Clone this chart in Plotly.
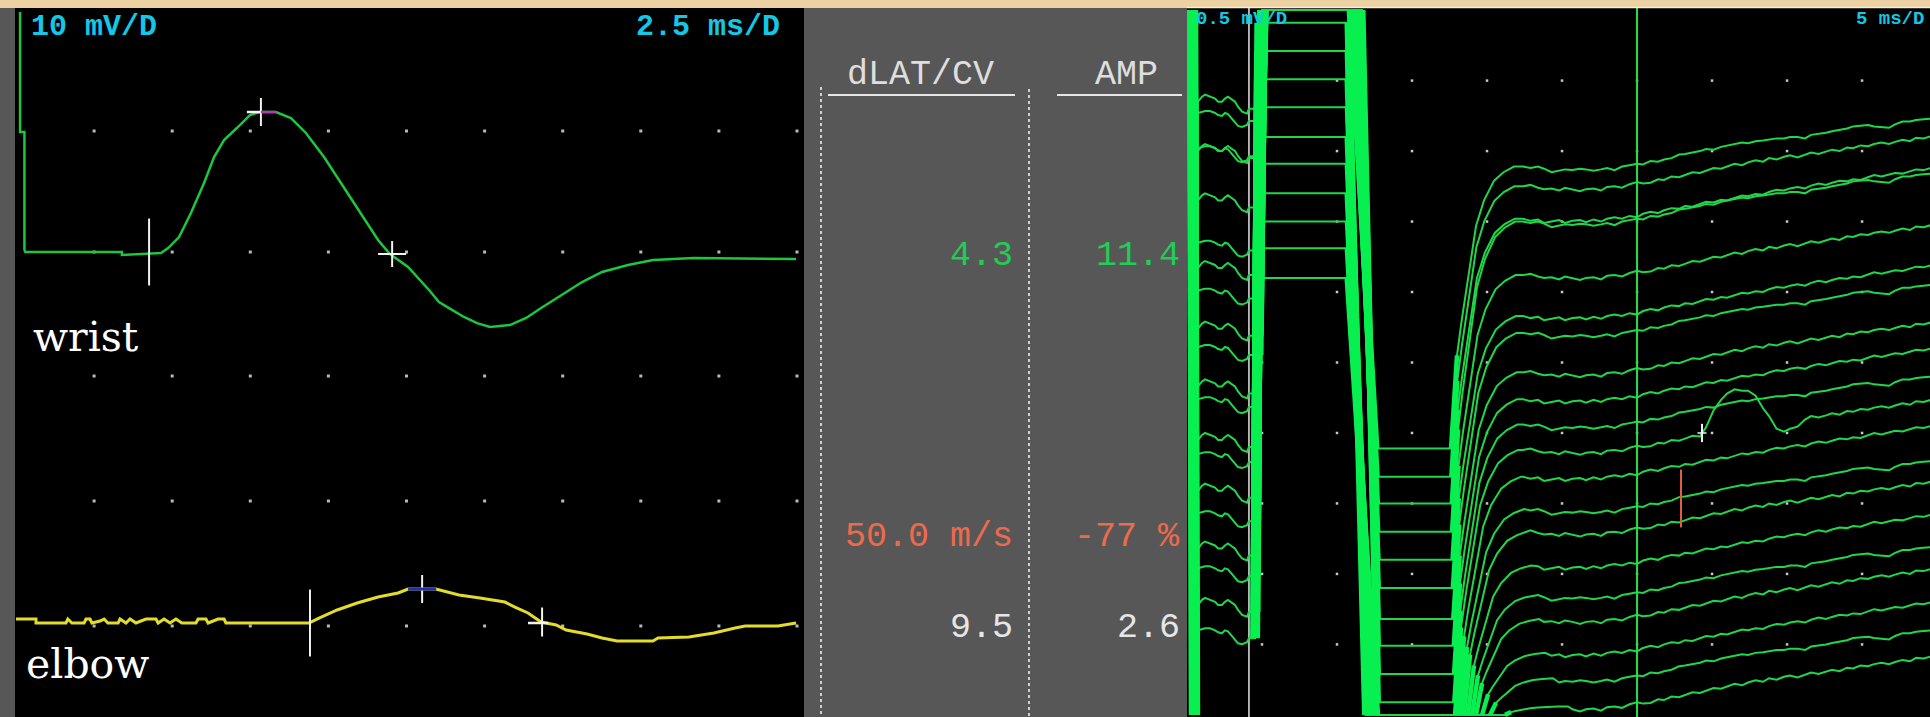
import plotly.graph_objects as go

FIG_W, FIG_H = 1930, 717

# ======================= LEFT PANEL (10 mV/D, 2.5 ms/D) =======================
WRIST_T = [0.13, 0.13, 0.27, 0.27, 0.30, 3.39, 3.39, 4.64, 4.87, 5.22, 5.60, 6.02, 6.34, 6.66,
           7.07, 7.49, 7.81, 8.32, 8.80, 9.28, 9.86, 10.28, 10.76, 11.17, 11.59, 11.97, 12.55,
           13.22, 13.54, 13.86, 14.34, 14.76, 15.17, 15.81, 16.33, 16.81, 17.45, 18.12, 18.76,
           19.59, 20.39, 21.70, 24.97]
WRIST_MV = [19.35, 9.68, 9.68, 0.16, 0.0, 0.0, -0.24, -0.08, 0.32, 1.21, 3.15, 5.56, 7.66, 9.03,
            10.0, 11.05, 11.29, 11.29, 10.8, 9.6, 7.66, 6.05, 4.19, 2.58, 0.97, -0.16, -1.21,
            -3.06, -4.03, -4.52, -5.24, -5.73, -6.05, -5.89, -5.32, -4.52, -3.47, -2.42, -1.61,
            -1.05, -0.65, -0.48, -0.56]

ELBOW_T = [0.0, 0.64, 0.64, 1.60, 1.66, 1.79, 2.18, 2.24, 2.37, 2.43, 2.69, 2.82, 2.94, 3.27,
           3.33, 3.52, 3.65, 3.84, 4.16, 4.48, 4.55, 4.74, 4.93, 5.12, 5.31, 5.76, 5.83, 6.08,
           6.15, 6.47, 6.66, 6.72, 6.98, 7.49, 9.38, 9.70, 10.28, 10.92, 11.59, 12.23, 12.55,
           13.44, 13.70, 14.18, 14.85, 15.65, 15.97, 16.39, 16.81, 17.29, 17.61, 18.28, 18.76,
           19.24, 20.39, 20.55, 21.54, 22.34, 23.02, 23.34, 24.39, 24.97]
ELBOW_MV = [0.24, 0.24, -0.08, -0.08, 0.24, -0.08, -0.08, 0.24, 0.24, -0.08, 0.08, 0.24, -0.08,
            -0.08, 0.24, -0.08, 0.24, -0.08, 0.24, 0.24, -0.08, 0.24, -0.08, 0.24, -0.08, -0.08,
            0.24, 0.24, -0.08, 0.24, 0.24, -0.08, -0.08, -0.08, -0.08, 0.32, 0.97, 1.53, 2.02,
            2.34, 2.66, 2.66, 2.50, 2.18, 1.94, 1.61, 1.21, 0.73, 0.0, -0.24, -0.65, -0.97,
            -1.29, -1.53, -1.53, -1.29, -1.21, -0.89, -0.48, -0.32, -0.32, -0.08]

WRIST_BASE = 37.5
ELBOW_BASE = 7.66

# cursors: time, level (rel. baseline), half-height
WRIST_CUR_T = [4.26, 7.84, 12.04]
WRIST_CUR_LV = [0.0, 11.29, -0.16]
WRIST_CUR_H = [2.7, 1.13, 1.05]
ELBOW_CUR_T = [9.41, 13.0, 16.84]
ELBOW_CUR_LV = [-0.08, 2.66, 0.0]
ELBOW_CUR_H = [2.7, 1.13, 1.17]

LEFT_DOT_T = [2.5, 5.0, 7.5, 10.0, 12.5, 15.0, 17.5, 20.0, 22.5, 25.0]
LEFT_DOT_MV = [7.34, 17.42, 27.5, 37.5, 47.26]

# ======================= MIDDLE TABLE =======================
HEADERS = ["dLAT/CV", "AMP"]
ROW_WRIST = ["4.3", "11.4"]
ROW_CV = ["50.0 m/s", "-77 %"]
ROW_ELBOW = ["9.5", "2.6"]

# ======================= RIGHT PANEL (0.5 mV/D, 5 ms/D) =======================
WAVE_BASE = [4.40, 4.27, 4.05, 4.02, 3.70, 3.35, 3.22, 3.01, 2.79, 2.61,
             2.38, 2.24, 2.00, 1.85, 1.64, 1.43, 1.23, 1.04, 0.83, 0.60]
TOP_MV = [5.0, 5.0, 5.0, 5.0, 5.0, 5.0, 5.0, 5.0, 5.0, 5.0,
          4.91, 4.71, 4.51, 4.31, 4.10, 3.91, 3.70, 3.50, 3.31, 3.10]
BOT_MV = [1.89, 1.69, 1.50, 1.30, 1.10, 0.90, 0.68, 0.49, 0.29, 0.09,
          0.0, 0.0, 0.0, 0.0, 0.0, 0.0, 0.0, 0.0, 0.0, 0.0]
PLAT_MV = [3.89, 3.75, 3.52, 3.50, 3.12, 2.83, 2.71, 2.43, 2.24, 2.06,
           1.88, 1.69, 1.46, 1.30, 1.06, 0.85, 0.68, 0.44, 0.26, 0.06]
SPIKE_T = [0.15, 0.40, 0.25, 0.55, 0.20, 0.45, 0.30, 0.60, 0.18, 0.50,
           0.35, 0.22, 0.58, 0.28, 0.48, 0.14, 0.38, 0.52, 0.26, 0.42]
RISE_START_T = [4.95, 4.93, 4.91, 4.89, 4.87, 4.85, 4.83, 4.81, 4.79, 4.77,
                4.66, 4.65, 4.64, 4.63, 4.62, 4.61, 4.60, 4.58, 4.56, 4.54]
RISE_END_T = [5.12, 5.10, 5.09, 5.08, 5.07, 5.06, 5.05, 5.04, 5.03, 5.02,
              4.82, 4.80, 4.79, 4.78, 4.77, 4.76, 4.75, 4.74, 4.73, 4.72]
FALL_START_T = [10.87, 10.95, 11.05, 11.15, 11.25, 11.35, 11.45, 11.55, 11.60, 11.67,
                10.73, 10.74, 10.73, 10.75, 10.73, 10.74, 10.73, 10.75, 10.74, 10.73]
FALL_END_T = [12.60, 12.62, 12.64, 12.66, 12.68, 12.70, 12.70, 12.70, 12.70, 12.70,
              11.90, 12.00, 12.10, 12.15, 12.20, 12.30, 12.35, 12.45, 12.55, 12.65]
REC_START_T = [17.60, 17.62, 17.65, 17.67, 17.70, 17.72, 17.75, 17.78, 17.80, 17.82,
               17.87, 18.07, 18.27, 18.47, 18.73, 19.00, 19.27, 19.67, 20.20, 21.20]

WAVE_T = [0.73, 1.0, 1.2, 1.53, 1.87, 2.07, 2.33, 2.53, 2.73, 3.0, 3.2, 3.4, 3.67, 4.0, 4.13]
WAVE_DY_A = [-0.05, -0.014, 0.0, -0.014, -0.028, -0.05, -0.05, -0.028, -0.014, -0.035, -0.05,
             -0.085, -0.12, -0.134, -0.1]
WAVE_DY_B = [0.0, 0.007, 0.014, 0.014, 0.0, -0.014, -0.021, 0.0, -0.007, -0.042, -0.07,
             -0.092, -0.099, -0.085, -0.056]

REC_DT = [0.0, 0.2, 0.4, 0.7, 1.07, 1.4, 1.67, 2.2, 2.87, 3.5, 4.2]
REC_FRAC = [0.0, 0.18, 0.33, 0.45, 0.58, 0.70, 0.79, 0.88, 0.95, 0.98, 1.0]

TAIL_T = [22.4, 22.9, 23.4, 23.8, 24.3, 24.8, 25.2, 25.7, 26.2, 26.6,
          27.1, 27.6, 28.0, 28.5, 29.0, 29.5, 30.0, 30.4, 30.9, 31.4,
          31.8, 32.3, 32.8, 33.2, 33.7, 34.2, 34.6, 35.1, 35.6, 36.0,
          36.5, 37.0, 37.4, 37.9, 38.4, 38.8, 39.3, 39.8, 40.2, 40.7,
          41.2, 41.6, 42.1, 42.6, 43.0, 43.5, 44.0, 44.4, 44.9, 45.4,
          45.8, 46.3, 46.8, 47.2, 47.7, 48.2, 48.6, 49.1, 49.6]
TAIL_A = [0.00, -0.01, 0.00, -0.015, -0.04, -0.03, -0.02, -0.025, -0.015, -0.02,
          -0.03, -0.02, -0.01, -0.025, 0.0, 0.01, 0.02, 0.015, 0.04, 0.035,
          0.05, 0.06, 0.085, 0.09, 0.10, 0.11, 0.125, 0.12, 0.14, 0.15,
          0.16, 0.17, 0.165, 0.18, 0.185, 0.19, 0.20, 0.20, 0.21, 0.21,
          0.20, 0.225, 0.23, 0.24, 0.25, 0.26, 0.27, 0.285, 0.29, 0.295,
          0.285, 0.28, 0.275, 0.30, 0.32, 0.32, 0.33, 0.335, 0.34]
TAIL_B = [0.00, 0.01, -0.01, -0.02, -0.015, -0.03, -0.01, -0.02, -0.035, -0.02,
          -0.015, -0.03, -0.005, 0.0, -0.01, 0.015, 0.03, 0.02, 0.025, 0.05,
          0.045, 0.07, 0.065, 0.08, 0.10, 0.095, 0.11, 0.13, 0.125, 0.14,
          0.16, 0.15, 0.17, 0.185, 0.175, 0.2, 0.19, 0.21, 0.22, 0.205,
          0.225, 0.24, 0.23, 0.245, 0.26, 0.25, 0.275, 0.27, 0.29, 0.285,
          0.30, 0.31, 0.30, 0.315, 0.33, 0.32, 0.345, 0.34, 0.355]
TAIL_C = [0.00, -0.015, -0.005, -0.03, -0.02, -0.01, -0.03, -0.015, -0.01, -0.025,
          -0.005, -0.02, 0.0, 0.01, 0.0, 0.02, 0.01, 0.035, 0.05, 0.04,
          0.06, 0.075, 0.07, 0.09, 0.085, 0.105, 0.12, 0.115, 0.135, 0.13,
          0.15, 0.165, 0.16, 0.175, 0.17, 0.19, 0.205, 0.2, 0.215, 0.225,
          0.215, 0.235, 0.25, 0.24, 0.255, 0.27, 0.265, 0.28, 0.275, 0.295,
          0.31, 0.30, 0.315, 0.325, 0.32, 0.335, 0.35, 0.345, 0.36]

BUMP_SWEEP = 10
BUMP_T = [34.2, 34.6, 35.1, 35.6, 36.0, 36.5, 37.0, 37.4, 37.9, 38.4, 38.8, 39.3, 39.8,
          40.2, 40.7, 41.2, 41.6, 42.1]
BUMP_MV = [0.0, 0.05, 0.15, 0.23, 0.26, 0.27, 0.27, 0.25, 0.20, 0.12, 0.04, -0.04, -0.08,
           -0.07, -0.04, -0.01, 0.0, 0.0]

STIM_LINE_T = 4.13
CURSOR_LINE_T = 30.0
PLUS_T, PLUS_MV = 34.33, 2.0
ORANGE_T, ORANGE_MV = 32.93, [1.33, 1.74]

RIGHT_DOT_T = [5, 10, 15, 20, 25, 30, 35, 40, 45]
RIGHT_DOT_MV = [0.5, 1.0, 1.5, 2.0, 2.5, 3.0, 3.5, 4.0, 4.5]

for a, b in [(WRIST_T, WRIST_MV), (ELBOW_T, ELBOW_MV), (TAIL_T, TAIL_A), (TAIL_T, TAIL_B),
             (TAIL_T, TAIL_C), (BUMP_T, BUMP_MV), (WAVE_T, WAVE_DY_A), (WAVE_T, WAVE_DY_B)]:
    assert len(a) == len(b), (len(a), len(b))

# ======================= FIGURE =======================
def px_x(x):
    return x / FIG_W


def px_y(y):
    return 1 - y / FIG_H


fig = go.Figure()

WHITE = "#f2f2f2"
GREEN_L = "#1cc63e"
GREEN_R = "#22d64a"
GREEN_BRIGHT = "#08f050"
YELLOW = "#e4dc2a"
CYAN = "#12c8e6"

# --- left panel grid dots
dx, dy = [], []
for yv in LEFT_DOT_MV:
    for xv in LEFT_DOT_T:
        dx.append(xv)
        dy.append(yv)
fig.add_trace(go.Scatter(x=dx, y=dy, mode="markers", cliponaxis=False,
                         marker=dict(size=3, color="#b8b8b8", symbol="square"),
                         xaxis="x", yaxis="y", hoverinfo="skip"))

# --- wrist & elbow traces
fig.add_trace(go.Scatter(x=WRIST_T, y=[WRIST_BASE + v for v in WRIST_MV], mode="lines",
                         line=dict(color=GREEN_L, width=2.5), xaxis="x", yaxis="y"))
fig.add_trace(go.Scatter(x=ELBOW_T, y=[ELBOW_BASE + v for v in ELBOW_MV], mode="lines",
                         line=dict(color=YELLOW, width=3), xaxis="x", yaxis="y"))

# --- cursors left
for base, ts, lvs, hs in [(WRIST_BASE, WRIST_CUR_T, WRIST_CUR_LV, WRIST_CUR_H),
                          (ELBOW_BASE, ELBOW_CUR_T, ELBOW_CUR_LV, ELBOW_CUR_H)]:
    for t, lv, h in zip(ts, lvs, hs):
        fig.add_trace(go.Scatter(x=[t, t], y=[base + lv - h, base + lv + h], mode="lines",
                                 line=dict(color=WHITE, width=2), xaxis="x", yaxis="y"))
fig.add_trace(go.Scatter(x=[WRIST_CUR_T[1] - 0.45, WRIST_CUR_T[1]],
                         y=[WRIST_BASE + WRIST_CUR_LV[1]] * 2, mode="lines",
                         line=dict(color=WHITE, width=2.5), xaxis="x", yaxis="y"))
fig.add_trace(go.Scatter(x=[WRIST_CUR_T[1], WRIST_CUR_T[1] + 0.5],
                         y=[WRIST_BASE + WRIST_CUR_LV[1]] * 2, mode="lines",
                         line=dict(color="#b03cb0", width=2.5), xaxis="x", yaxis="y"))
fig.add_trace(go.Scatter(x=[WRIST_CUR_T[2] - 0.45, WRIST_CUR_T[2] + 0.45],
                         y=[WRIST_BASE + WRIST_CUR_LV[2]] * 2, mode="lines",
                         line=dict(color=WHITE, width=2), xaxis="x", yaxis="y"))
fig.add_trace(go.Scatter(x=[ELBOW_CUR_T[1] - 0.45, ELBOW_CUR_T[1] + 0.45],
                         y=[ELBOW_BASE + ELBOW_CUR_LV[1]] * 2, mode="lines",
                         line=dict(color="#2230b0", width=3), xaxis="x", yaxis="y"))
fig.add_trace(go.Scatter(x=[ELBOW_CUR_T[2] - 0.45, ELBOW_CUR_T[2] + 0.2],
                         y=[ELBOW_BASE + ELBOW_CUR_LV[2] - 0.08] * 2, mode="lines",
                         line=dict(color=WHITE, width=2.5), xaxis="x", yaxis="y"))

# --- right panel dots
rx, ry = [], []
for yv in RIGHT_DOT_MV:
    for xv in RIGHT_DOT_T:
        rx.append(xv)
        ry.append(yv)
fig.add_trace(go.Scatter(x=rx, y=ry, mode="markers",
                         marker=dict(size=2.5, color="#c8c8c8", symbol="square"),
                         xaxis="x2", yaxis="y2", hoverinfo="skip"))

# stimulus white line
fig.add_trace(go.Scatter(x=[STIM_LINE_T, STIM_LINE_T], y=[-0.05, 5.05], mode="lines",
                         line=dict(color="#d6d6d6", width=1.6), xaxis="x2", yaxis="y2"))

# --- sweeps
TAILS = [TAIL_A, TAIL_B, TAIL_C]
WAVES = [WAVE_DY_A, WAVE_DY_B]
bump = dict(zip(BUMP_T, BUMP_MV))
rise_x, rise_y = [], []      # steep saturated rising edges
fall_x, fall_y = [], []      # steep saturated falling edges
thin_x, thin_y = [], []      # stimulus spike and recovery start
for k in range(len(WAVE_BASE)):
    wave = WAVES[k % 2]
    wave_end = WAVE_BASE[k] + wave[-1]
    xs = [SPIKE_T[k], SPIKE_T[k] + 0.13]
    ys = [5.0, 0.0]
    for t, d in zip(WAVE_T, wave):
        xs.append(t)
        ys.append(WAVE_BASE[k] + d)
    xs += [RISE_START_T[k], RISE_END_T[k], FALL_START_T[k], FALL_END_T[k], REC_START_T[k]]
    ys += [wave_end, TOP_MV[k], TOP_MV[k], BOT_MV[k], BOT_MV[k]]
    for dt, f in zip(REC_DT, REC_FRAC):
        xs.append(REC_START_T[k] + dt)
        ys.append(BOT_MV[k] + (PLAT_MV[k] - BOT_MV[k]) * f)
    for t, d in zip(TAIL_T, TAILS[k % 3]):
        if t > xs[-1]:
            xs.append(t)
            extra = bump.get(t, 0.0) if k == BUMP_SWEEP else 0.0
            ys.append(PLAT_MV[k] + d + extra)
    fig.add_trace(go.Scatter(x=xs, y=ys, mode="lines",
                             line=dict(color=GREEN_R, width=2), xaxis="x2", yaxis="y2"))
    rise_x += [RISE_START_T[k], RISE_END_T[k], None]
    rise_y += [wave_end, TOP_MV[k], None]
    fall_x += [FALL_START_T[k], FALL_END_T[k], None]
    fall_y += [TOP_MV[k], BOT_MV[k], None]
    thin_x += [SPIKE_T[k], SPIKE_T[k] + 0.13, None,
               REC_START_T[k], REC_START_T[k] + REC_DT[2], None]
    thin_y += [5.0, 0.0, None,
               BOT_MV[k], BOT_MV[k] + (PLAT_MV[k] - BOT_MV[k]) * REC_FRAC[2], None]
fig.add_trace(go.Scatter(x=rise_x, y=rise_y, mode="lines", connectgaps=False,
                         line=dict(color=GREEN_BRIGHT, width=10), xaxis="x2", yaxis="y2"))
fig.add_trace(go.Scatter(x=fall_x, y=fall_y, mode="lines", connectgaps=False,
                         line=dict(color=GREEN_BRIGHT, width=7), xaxis="x2", yaxis="y2"))
fig.add_trace(go.Scatter(x=thin_x, y=thin_y, mode="lines", connectgaps=False,
                         line=dict(color=GREEN_BRIGHT, width=4.5), xaxis="x2", yaxis="y2"))

# green cursor line and markers
fig.add_trace(go.Scatter(x=[CURSOR_LINE_T, CURSOR_LINE_T], y=[-0.05, 5.05], mode="lines",
                         line=dict(color="#20e04c", width=2), xaxis="x2", yaxis="y2"))
fig.add_trace(go.Scatter(x=[PLUS_T, PLUS_T], y=[PLUS_MV - 0.065, PLUS_MV + 0.065], mode="lines",
                         line=dict(color=WHITE, width=2), xaxis="x2", yaxis="y2"))
fig.add_trace(go.Scatter(x=[PLUS_T - 0.3, PLUS_T + 0.3], y=[PLUS_MV, PLUS_MV], mode="lines",
                         line=dict(color=WHITE, width=1.5), xaxis="x2", yaxis="y2"))
fig.add_trace(go.Scatter(x=[ORANGE_T, ORANGE_T], y=ORANGE_MV, mode="lines",
                         line=dict(color="#e0603c", width=2), xaxis="x2", yaxis="y2"))

# ======================= BACKGROUND SHAPES =======================
shapes = []


def rect(x0, x1, y0, y1, color):
    shapes.append(dict(type="rect", xref="paper", yref="paper", layer="below",
                       x0=px_x(x0), x1=px_x(x1), y0=px_y(y1), y1=px_y(y0),
                       fillcolor=color, line=dict(width=0)))


def hline(x0, x1, y, color, width=2, dash="solid"):
    shapes.append(dict(type="line", xref="paper", yref="paper", layer="above",
                       x0=px_x(x0), x1=px_x(x1), y0=px_y(y), y1=px_y(y),
                       line=dict(color=color, width=width, dash=dash)))


def vline(x, y0, y1, color, width=2, dash="solid"):
    shapes.append(dict(type="line", xref="paper", yref="paper", layer="above",
                       x0=px_x(x), x1=px_x(x), y0=px_y(y0), y1=px_y(y1),
                       line=dict(color=color, width=width, dash=dash)))


rect(0, 15, 8, 717, "#575757")
rect(15, 804, 8, 717, "#000000")
rect(804, 1187, 8, 717, "#575757")
rect(1187, 1930, 8, 717, "#000000")
hline(1187, 1930, 7.5, "#f4f0e8", 1.5)
# table decorations
hline(828, 1015, 95, "#e6e6e6", 2)
hline(1057, 1182, 95, "#e6e6e6", 2)
vline(821, 87, 717, "#d0d0d0", 2, "dot")
vline(1029, 89, 717, "#d0d0d0", 2, "dot")

# ======================= TEXT =======================
ann = []


def text(x, y, s, size, color, family="Liberation Mono", anchor="left", bold=False):
    ann.append(dict(x=px_x(x), y=px_y(y), xref="paper", yref="paper", showarrow=False,
                    text=f"<b>{s}</b>" if bold else s, xanchor=anchor, yanchor="middle",
                    font=dict(family=family, size=size, color=color)))


text(29, 27, "10 mV/D", 30, CYAN, bold=True)
text(782, 27, "2.5 ms/D", 30, CYAN, anchor="right", bold=True)
text(31, 337, "wrist", 41, "#ffffff", family="DejaVu Serif")
text(24, 664, "elbow", 41, "#ffffff", family="DejaVu Serif")

text(920, 75, HEADERS[0], 35, "#dedede", anchor="center")
text(1126, 75, HEADERS[1], 35, "#dedede", anchor="center")
text(1015, 256, ROW_WRIST[0], 35, "#22cc55", anchor="right")
text(1182, 256, ROW_WRIST[1], 35, "#22cc55", anchor="right")
text(1015, 537, ROW_CV[0], 35, "#ee6a4c", anchor="right")
text(1182, 537, ROW_CV[1], 35, "#ee6a4c", anchor="right")
text(1015, 628, ROW_ELBOW[0], 35, "#e6e6e6", anchor="right")
text(1182, 628, ROW_ELBOW[1], 35, "#e6e6e6", anchor="right")

text(1194, 19, "0.5 mV/D", 19, CYAN, bold=True)
text(1926, 19, "5 ms/D", 19, CYAN, anchor="right", bold=True)

fig.update_layout(
    width=FIG_W, height=FIG_H,
    margin=dict(l=0, r=0, t=0, b=0, pad=0),
    paper_bgcolor="#ecd1a3",
    plot_bgcolor="rgba(0,0,0,0)",
    showlegend=False,
    shapes=shapes,
    annotations=ann,
    xaxis=dict(domain=[px_x(16), px_x(797)], range=[0, 25], visible=False, anchor="y"),
    yaxis=dict(domain=[0, px_y(7)], range=[0, 57.26], visible=False, anchor="x"),
    xaxis2=dict(domain=[px_x(1187), 1.0], range=[0, 49.53], visible=False, anchor="y2"),
    yaxis2=dict(domain=[0, px_y(8)], range=[-0.015, 5.015], visible=False, anchor="x2"),
)

fig.write_html("out.html")
